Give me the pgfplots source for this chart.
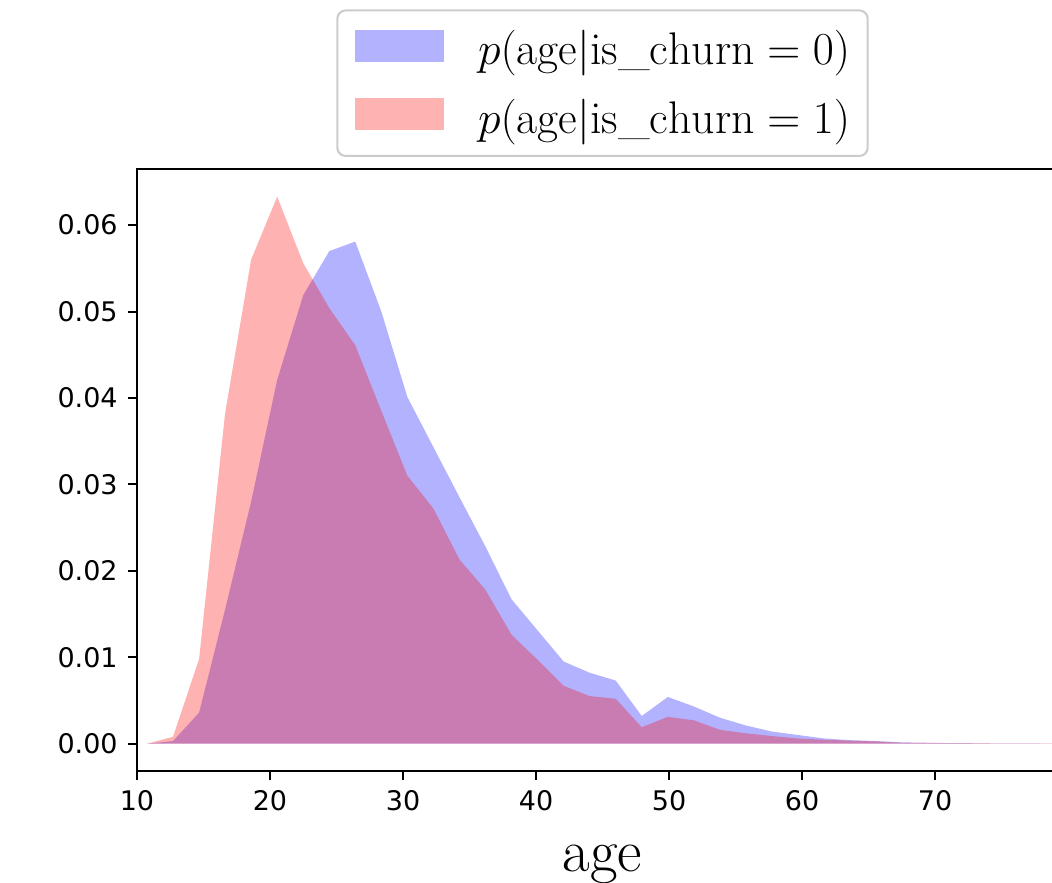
\documentclass[border=0pt]{standalone}
\usepackage{fontspec}
\usepackage{graphicx}
\usepackage{pgfplots}
\pgfplotsset{compat=1.18}
\newfontfamily\dejavu{DejaVu Sans}

\pgfplotstableread{
x      blue     red
10.75  0        0
12.71  0.0003   0.0008
14.67  0.0036   0.0098
16.62  0.0155   0.0382
18.58  0.0280   0.0560
20.54  0.0421   0.0633
22.50  0.0519   0.0556
24.46  0.0570   0.0504
26.41  0.0581   0.0461
28.37  0.0500   0.0385
30.33  0.0401   0.0310
32.29  0.0343   0.0272
34.25  0.0285   0.0213
36.20  0.0228   0.0178
38.16  0.0167   0.0126
40.12  0.0131   0.0097
42.08  0.0095   0.0067
44.04  0.0082   0.0055
45.99  0.0073   0.0052
47.95  0.0032   0.0019
49.91  0.0054   0.0031
51.87  0.0043   0.0027
53.83  0.0030   0.0016
55.78  0.0021   0.0012
57.74  0.0014   0.00088
59.70  0.0010   0.0006
61.66  0.0006   0.00045
63.62  0.0004   0.00035
65.57  0.0003   0.00025
67.53  0.00015  0.0001
69.49  0.0001   0.00008
71.45  0.00006  0.00006
73.41  0.00004  0.00005
75.36  0.00003  0.00004
77.32  0.00002  0.00003
79.28  0.00001  0.00002
81.24  0.00001  0.00001
}\agedata

\begin{document}
\begin{tikzpicture}
\path[use as bounding box] (-65.76bp,-53.28bp) rectangle (439.2bp,370.08bp);
\clip (-65.76bp,-53.28bp) rectangle (439.2bp,370.08bp);
\begin{axis}[
  at={(0,0)}, anchor=south west,
  scale only axis,
  width=446.9bp, height=288.96bp,
  xmin=10, xmax=80,
  ymin=-0.003165, ymax=0.0665,
  xtick={10,20,30,40,50,60,70,80},
  ytick={0,0.01,0.02,0.03,0.04,0.05,0.06},
  scaled y ticks=false,
  tick pos=left,
  tick align=outside,
  major tick length=4.5bp,
  axis line style={line width=1bp, black},
  major tick style={line width=1bp, black},
  yticklabel style={font=\dejavu\fontsize{13}{15}\selectfont, anchor=east, inner sep=0pt, xshift=-4.6bp,
    /pgf/number format/.cd, fixed, fixed zerofill, precision=2, assume math mode=true},
  xticklabel style={font=\dejavu\fontsize{13}{15}\selectfont, anchor=north, inner sep=0pt, yshift=-4.8bp,
    /pgf/number format/.cd, fixed, precision=0, assume math mode=true},
  xlabel={age},
  xlabel style={font=\fontsize{28.9}{32}\selectfont, at={(axis description cs:0.5,0)}, anchor=base, inner sep=0pt, yshift=-48bp},
  legend cell align=left,
  legend image code/.code={\fill[#1,draw=none,sharp corners] (0bp,-6.2bp) rectangle (42.7bp,9.2bp);},
  legend style={
    at={(0.5,1)}, anchor=south, yshift=5.76bp,
    draw=black!20, line width=1bp, rounded corners=4bp, fill=white,
    font=\fontsize{20.74}{25}\selectfont,
    inner xsep=8.4bp, inner ysep=9.5bp,
    row sep=14.5bp,
    nodes={inner sep=0pt},
    /tikz/every odd column/.style={column sep=16.5bp},
  },
]
\addplot[draw=none, fill=blue, fill opacity=0.3] table[x=x, y=blue] {\agedata} \closedcycle;
\addlegendentry{\scalebox{1.063}{$p(\mathrm{age}|\mathrm{is\_churn}=0)$}}
\addplot[draw=none, fill=red, fill opacity=0.3] table[x=x, y=red] {\agedata} \closedcycle;
\addlegendentry{\scalebox{1.063}{$p(\mathrm{age}|\mathrm{is\_churn}=1)$}}
\end{axis}
\end{tikzpicture}
\end{document}
